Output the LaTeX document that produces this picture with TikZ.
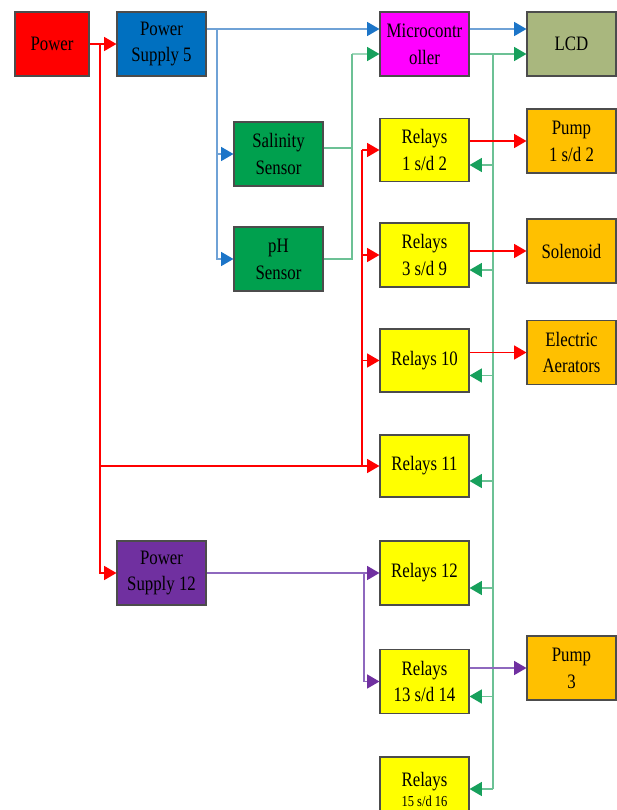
\documentclass[tikz,border=0pt]{standalone}
\usepackage{fontspec}
\setmainfont[FakeStretch=0.82]{Liberation Serif}
\usetikzlibrary{arrows.meta}

\definecolor{pwrred}{HTML}{FF0000}
\definecolor{psblue}{HTML}{0070C0}
\definecolor{wireblue}{HTML}{6FA2D6}
\definecolor{tipblue}{HTML}{1C75C8}
\definecolor{mcmagenta}{HTML}{FF00FF}
\definecolor{lcdolive}{HTML}{A9B77E}
\definecolor{sensgreen}{HTML}{00A04E}
\definecolor{wiregreen}{HTML}{6CC195}
\definecolor{tipgreen}{HTML}{17A05C}
\definecolor{relyellow}{HTML}{FFFF00}
\definecolor{outorange}{HTML}{FFC000}
\definecolor{pspurple}{HTML}{7030A0}
\definecolor{wirepurple}{HTML}{8E68BE}

\tikzset{
  block/.style={rectangle, draw=black!70, line width=0.9pt, minimum width=2.67cm,
    minimum height=1.92cm, align=center, inner sep=1pt,
    font=\fontsize{17.5}{23}\selectfont},
  wire/.style={line width=1.1pt},
  redarr/.style={wire, pwrred, -{Triangle[length=0.37cm,width=0.42cm]}},
  bluearr/.style={wire, wireblue, -{Triangle[length=0.37cm,width=0.42cm,color=tipblue]}},
  greenarr/.style={wire, wiregreen, -{Triangle[length=0.37cm,width=0.42cm,color=tipgreen]}},
  purplearr/.style={wire, wirepurple, -{Triangle[length=0.37cm,width=0.42cm,color=pspurple]}},
}

\begin{document}
\begin{tikzpicture}[x=0.03cm, y=-0.03cm]
    \useasboundingbox (0,0) rectangle (617,810);
    % Place nodes
    \node [block, fill=pwrred, minimum width=2.22cm] (power) at (52,44) {Power};
    \node [block, fill=psblue] (ps5) at (161.5,44) {Power\\Supply 5};
    \node [block, fill=mcmagenta] (mc) at (424.5,44) {Microcontr\\oller};
    \node [block, fill=lcdolive] (lcd) at (571.5,44) {LCD};
    \node [block, fill=sensgreen] (sal) at (278.5,154) {Salinity\\Sensor};
    \node [block, fill=sensgreen] (ph) at (278.5,259) {pH\\Sensor};
    \node [block, fill=relyellow, minimum height=1.89cm] (r1) at (424.5,150) {Relays\\1 s/d 2};
    \node [block, fill=relyellow] (r3) at (424.5,255) {Relays\\3 s/d 9};
    \node [block, fill=relyellow, minimum height=1.89cm] (r10) at (424.5,360.5) {Relays 10};
    \node [block, fill=relyellow, minimum height=1.86cm] (r11) at (424.5,466) {Relays 11};
    \node [block, fill=relyellow] (r12) at (424.5,573) {Relays 12};
    \node [block, fill=relyellow] (r13) at (424.5,681.5) {Relays\\13 s/d 14};
    \node [block, fill=relyellow] (r15) at (424.5,789) {Relays\\[-6pt]{\fontsize{13}{15}\selectfont 15 s/d 16}};
    \node [block, fill=outorange] (p1) at (571.5,141) {Pump\\1 s/d 2};
    \node [block, fill=outorange] (sol) at (571.5,251) {Solenoid};
    \node [block, fill=outorange] (aer) at (571.5,352.5) {Electric\\Aerators};
    \node [block, fill=outorange] (p3) at (571.5,668) {Pump\\3};
    \node [block, fill=pspurple] (ps12) at (161.5,573) {Power\\Supply 12};
    % Junctions
    \coordinate (rtop) at (100,44);
    \coordinate (rbus) at (362,463);
    \coordinate (bbus) at (217,29);
    \coordinate (sbus) at (352,54);
    \coordinate (gbus) at (493,54);
    \coordinate (pbus) at (364,573);
    % Power supply lines
    \draw[redarr] (power) -- (ps5);
    \draw[redarr] (rtop) |- (ps12);
    \draw[redarr] (rtop |- r11) -- (r11);
    \draw[wire, pwrred] (rbus |- r11) -- (rbus |- r1);
    \foreach \r in {r1,r3,r10} \draw[redarr] (rbus |- \r) -- (\r);
    \draw[bluearr] ([yshift=0.45cm]ps5.east) -- ([yshift=0.45cm]mc.west);
    \draw[bluearr] (bbus) |- (ph);
    \draw[bluearr] (bbus |- sal) -- (sal);
    \draw[purplearr] (ps12) -- (r12);
    \draw[purplearr] (pbus) |- (r13);
    % Signals
    \draw[wire, wiregreen] ([yshift=0.18cm]sal.east) -| (sbus);
    \draw[wire, wiregreen] (ph.east) -| (sbus);
    \draw[greenarr] (sbus) -- ([yshift=-0.3cm]mc.west);
    \draw[bluearr] ([yshift=0.45cm]mc.east) -- ([yshift=0.45cm]lcd.west);
    \draw[greenarr] ([yshift=-0.3cm]mc.east) -- ([yshift=-0.3cm]lcd.west);
    \draw[wire, wiregreen] (gbus) -- (gbus |- r15.east);
    \foreach \r in {r1,r3,r10,r11,r12,r13} {
        \coordinate (g\r) at ([yshift=-0.45cm]\r.east);
        \draw[greenarr] (gbus |- g\r) -- (g\r);
    }
    \draw[greenarr] (gbus |- r15.east) -- (r15.east);
    % Outputs
    \draw[redarr] (r1.east |- p1) -- (p1);
    \draw[redarr] (r3.east |- sol) -- (sol);
    \draw[redarr] (r10.east |- aer) -- (aer);
    \draw[purplearr] (r13.east |- p3) -- (p3);
\end{tikzpicture}
\end{document}
